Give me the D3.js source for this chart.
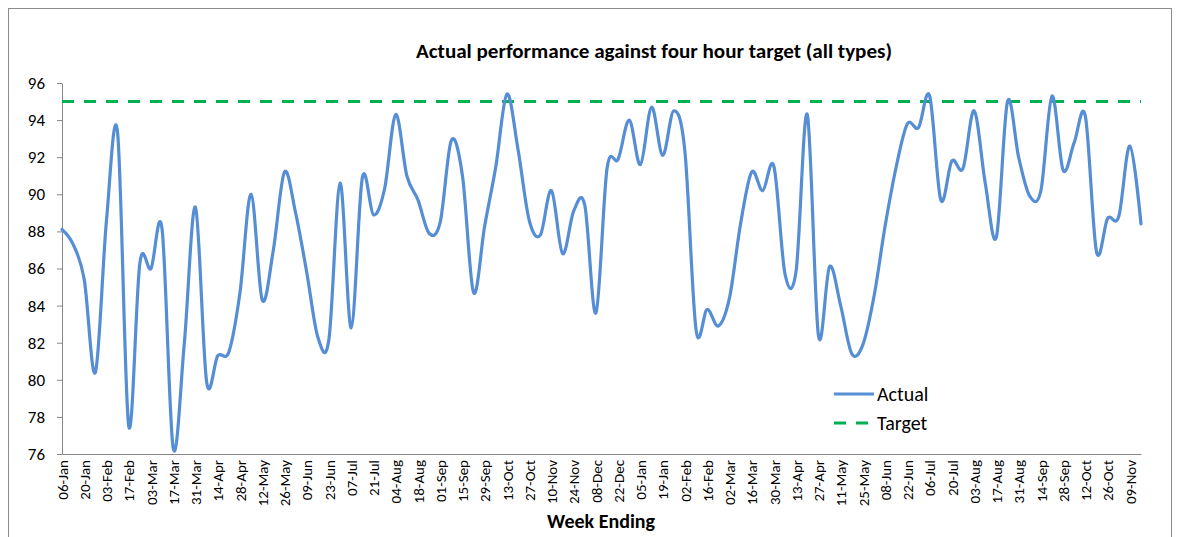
<!DOCTYPE html>
<html>
<head>
<meta charset="utf-8">
<script src="https://cdn.jsdelivr.net/npm/d3@7/dist/d3.min.js"></script>
<style>
  html, body { margin: 0; padding: 0; background: #fff; }
  svg { display: block; font-family: Carlito, Calibri, Lato, "Open Sans", sans-serif; }
</style>
</head>
<body>
<svg id="chart" width="1179" height="537"></svg>
<script>
const weeks = [
  "06-Jan","13-Jan","20-Jan","27-Jan","03-Feb","10-Feb","17-Feb","24-Feb","03-Mar","10-Mar",
  "17-Mar","24-Mar","31-Mar","07-Apr","14-Apr","21-Apr","28-Apr","05-May","12-May","19-May",
  "26-May","02-Jun","09-Jun","16-Jun","23-Jun","30-Jun","07-Jul","14-Jul","21-Jul","28-Jul",
  "04-Aug","11-Aug","18-Aug","25-Aug","01-Sep","08-Sep","15-Sep","22-Sep","29-Sep","06-Oct",
  "13-Oct","20-Oct","27-Oct","03-Nov","10-Nov","17-Nov","24-Nov","01-Dec","08-Dec","15-Dec",
  "22-Dec","29-Dec","05-Jan","12-Jan","19-Jan","26-Jan","02-Feb","09-Feb","16-Feb","23-Feb",
  "02-Mar","09-Mar","16-Mar","23-Mar","30-Mar","06-Apr","13-Apr","20-Apr","27-Apr","04-May",
  "11-May","18-May","25-May","01-Jun","08-Jun","15-Jun","22-Jun","29-Jun","06-Jul","13-Jul",
  "20-Jul","27-Jul","03-Aug","10-Aug","17-Aug","24-Aug","31-Aug","07-Sep","14-Sep","21-Sep",
  "28-Sep","05-Oct","12-Oct","19-Oct","26-Oct","02-Nov","09-Nov","16-Nov"
];
const actual = [
  88.1, 87.3, 85.4, 80.4, 88.6, 93.3, 77.5, 86.3, 86.0, 88.1,
  76.3, 82.0, 89.3, 79.9, 81.3, 81.5, 84.7, 90.0, 84.3, 87.0,
  91.2, 89.0, 85.8, 82.3, 82.2, 90.6, 82.8, 90.9, 88.9, 90.3,
  94.3, 91.0, 89.7, 87.9, 88.5, 92.9, 91.0, 84.7, 88.3, 91.5,
  95.4, 92.4, 88.6, 87.8, 90.2, 86.8, 89.1, 89.4, 83.6, 91.4,
  91.9, 94.0, 91.6, 94.7, 92.1, 94.5, 92.3, 82.7, 83.8, 82.9,
  84.4, 88.4, 91.2, 90.2, 91.5, 85.7, 85.9, 94.3, 82.4, 86.1,
  84.0, 81.4, 81.9, 84.5, 88.3, 91.5, 93.8, 93.6, 95.3, 89.7,
  91.8, 91.4, 94.5, 90.6, 87.7, 95.0, 92.0, 89.9, 90.2, 95.3,
  91.3, 92.8, 94.2, 86.9, 88.7, 88.8, 92.6, 88.4
];
const targetValue = 95;
const yTicks = [76, 78, 80, 82, 84, 86, 88, 90, 92, 94, 96];
const xTickLabels = weeks.filter((d, i) => i % 2 === 0);
const seriesNames = ["Actual", "Target"];
const titleText = "Actual performance against four hour target (all types)";
const xAxisTitle = "Week Ending";

const svg = d3.select("#chart");
const plot = { left: 62, right: 1141, top: 83, bottom: 454 };
const FONT = "Carlito, Calibri, Lato, sans-serif";

// outer chart border
svg.append("rect")
  .attr("x", 8.5).attr("y", 8.5)
  .attr("width", 1163).attr("height", 540)
  .attr("fill", "none").attr("stroke", "#8c8c8c").attr("stroke-width", 1);

const x = d3.scalePoint().domain(weeks).range([plot.left, plot.right]);
const y = d3.scaleLinear().domain([76, 96]).range([plot.bottom, plot.top]);

// title
svg.append("text")
  .attr("x", 654).attr("y", 58)
  .attr("text-anchor", "middle")
  .attr("font-size", 20).attr("font-weight", "bold").attr("fill", "#000")
  .attr("textLength", 476).attr("lengthAdjust", "spacingAndGlyphs")
  .text(titleText);

// y axis
const yAxis = svg.append("g")
  .attr("transform", `translate(${plot.left},0)`)
  .call(d3.axisLeft(y).tickValues(yTicks).tickSize(5).tickSizeOuter(0).tickPadding(12).tickFormat(d3.format("d")));
yAxis.select(".domain").attr("stroke", "#868686");
yAxis.selectAll(".tick line").attr("stroke", "#868686");
yAxis.selectAll(".tick text")
  .attr("font-size", 17).attr("fill", "#000")
  .style("font-family", FONT);

// x axis
const xAxis = svg.append("g")
  .attr("transform", `translate(0,${plot.bottom})`)
  .call(d3.axisBottom(x).tickValues(xTickLabels).tickSize(0).tickSizeOuter(0));
xAxis.select(".domain").attr("stroke", "#868686");
xAxis.selectAll(".tick text")
  .attr("font-size", 15).attr("fill", "#000")
  .style("font-family", FONT)
  .attr("text-anchor", "end")
  .attr("transform", "rotate(-90)")
  .attr("x", -6).attr("y", 0).attr("dy", "0.35em");

// x axis title
svg.append("text")
  .attr("x", 601).attr("y", 528)
  .attr("text-anchor", "middle")
  .attr("font-size", 20).attr("font-weight", "bold").attr("fill", "#000")
  .text(xAxisTitle);

// target line
const targetLine = d3.line().x(d => x(d)).y(() => y(targetValue));
svg.append("path")
  .datum([weeks[0], weeks[weeks.length - 1]])
  .attr("d", targetLine)
  .attr("fill", "none").attr("stroke", "#00B050").attr("stroke-width", 3)
  .attr("stroke-dasharray", "12,10");

// actual line (smoothed like Excel)
const actualLine = d3.line()
  .x((d, i) => x(weeks[i]))
  .y(d => y(d))
  .curve(d3.curveCardinal.tension(0));
svg.append("path")
  .datum(actual)
  .attr("d", actualLine)
  .attr("fill", "none").attr("stroke", "#558ED5").attr("stroke-width", 3.2)
  .attr("stroke-linejoin", "round").attr("stroke-linecap", "round");

// legend
const legend = svg.append("g").attr("transform", "translate(834,0)");
const legendItems = [
  { name: seriesNames[0], color: "#558ED5", dash: null, yPos: 394 },
  { name: seriesNames[1], color: "#00B050", dash: "12,10", yPos: 423 }
];
legendItems.forEach(it => {
  legend.append("line")
    .attr("x1", 0).attr("x2", it.dash ? 38 : 40)
    .attr("y1", it.yPos).attr("y2", it.yPos)
    .attr("stroke", it.color).attr("stroke-width", 3)
    .attr("stroke-dasharray", it.dash);
  legend.append("text")
    .attr("x", 43).attr("y", it.yPos).attr("dy", "0.35em")
    .attr("font-size", 20).attr("fill", "#000")
    .style("font-family", FONT)
    .text(it.name);
});
</script>
</body>
</html>
